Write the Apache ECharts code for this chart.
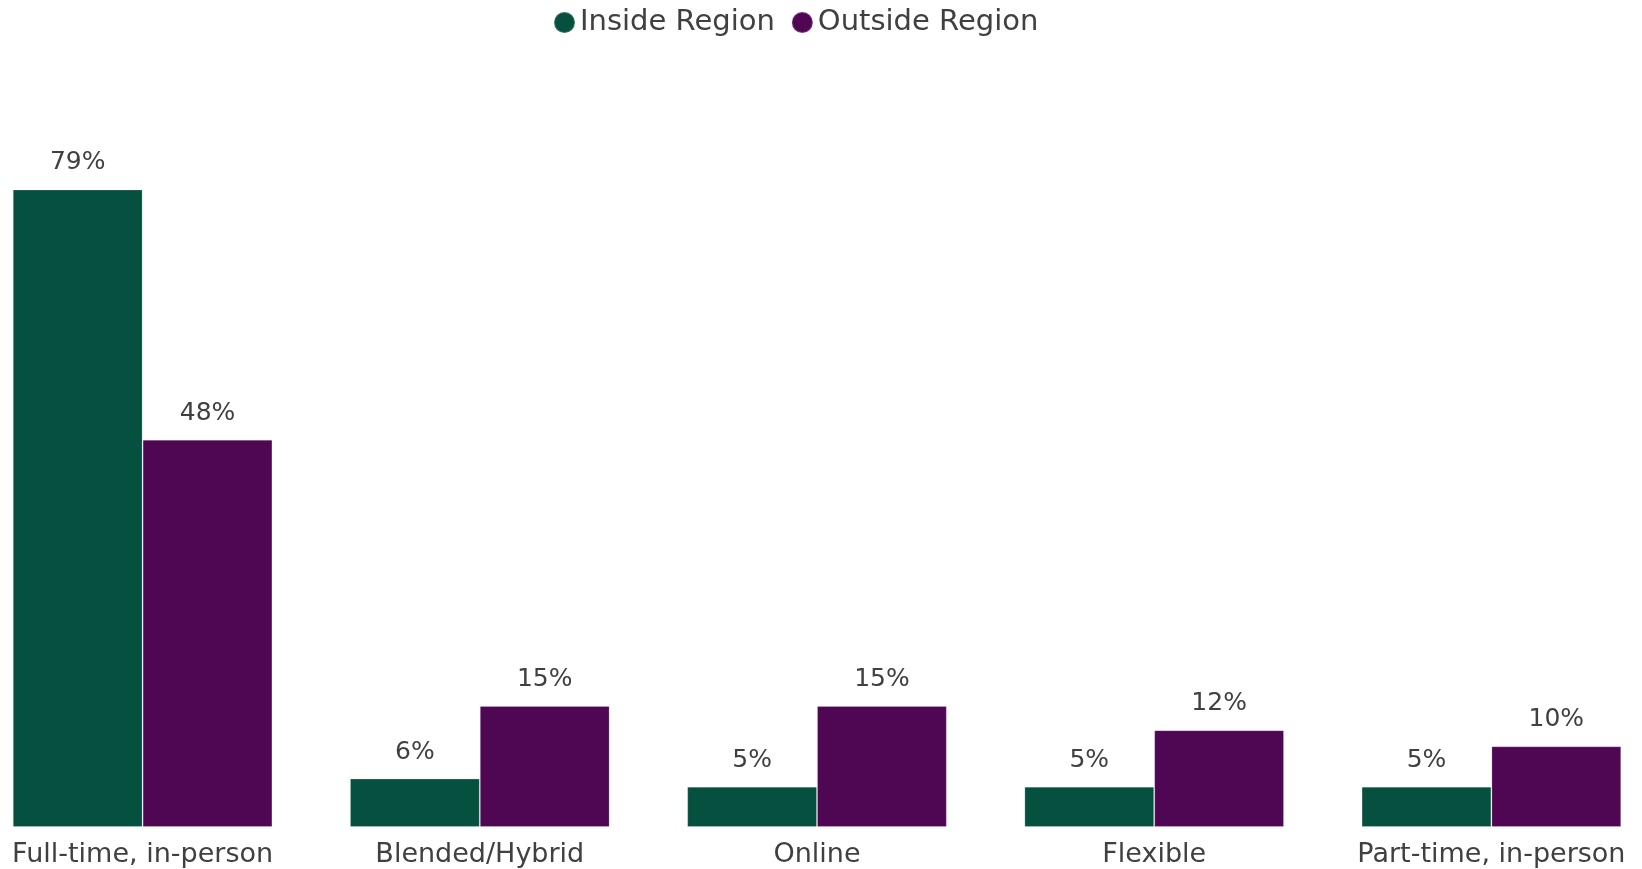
<!DOCTYPE html>
<html>
<head>
<meta charset="utf-8">
<script src="https://cdn.jsdelivr.net/npm/echarts@6/dist/echarts.min.js"></script>
<style>
    html, body {margin: 0; padding: 0; background: #fff; overflow: hidden;}
    /* plot runs a little past both window edges, like the original */
    #chart {width: 1686px; height: 869px; margin-left: -26px;}
</style>
</head>
<body>
<div id="chart"></div>
<script>
const categories = ['Full-time, in-person', 'Blended/Hybrid', 'Online', 'Flexible', 'Part-time, in-person'];
const seriesNames = ['Inside Region', 'Outside Region'];
const insideValues = [79, 6, 5, 5, 5];
const outsideValues = [48, 15, 15, 12, 10];

const GREEN = '#06503F';
const PURPLE = '#4F0753';
const FONT = 'DejaVu Sans';

const chart = echarts.init(document.getElementById('chart'));

const barSeries = (name, data, color) => ({
    name,
    type: 'bar',
    data,
    barGap: '0%',
    barCategoryGap: '23%',
    itemStyle: {
        color,
        borderColor: 'rgba(255,255,255,0.2)',
        borderWidth: 1
    },
    label: {
        show: true,
        position: 'top',
        distance: 14,
        formatter: '{c}%',
        color: '#404040',
        fontFamily: FONT,
        fontSize: 25
    }
});

chart.setOption({
    animation: false,
    legend: {
        data: seriesNames,
        top: 3,
        left: 574,
        icon: 'circle',
        itemWidth: 21,
        itemHeight: 21,
        itemGap: 16,
        textStyle: {
            color: '#404040',
            fontFamily: FONT,
            fontSize: 29
        }
    },
    grid: {
        left: 0,
        right: 0,
        top: 20,
        bottom: 42,
        containLabel: false
    },
    xAxis: {
        type: 'category',
        data: categories,
        axisLine: {show: false},
        axisTick: {show: false},
        axisLabel: {
            interval: 0,
            margin: 14,
            color: '#404040',
            fontFamily: FONT,
            fontSize: 27
        }
    },
    yAxis: {
        type: 'value',
        min: 0,
        max: 100,
        show: false,
        splitLine: {show: false}
    },
    series: [
        barSeries(seriesNames[0], insideValues, GREEN),
        barSeries(seriesNames[1], outsideValues, PURPLE)
    ]
});
</script>
</body>
</html>
